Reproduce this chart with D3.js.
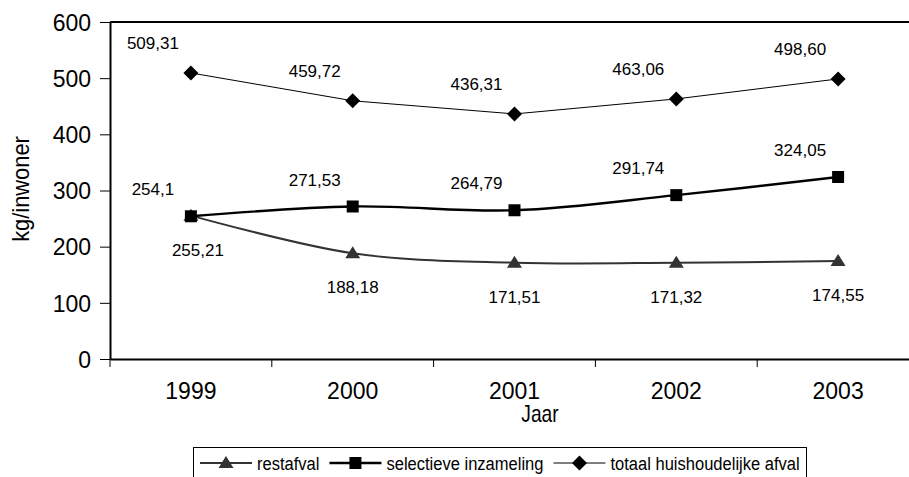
<!DOCTYPE html>
<html>
<head>
<meta charset="utf-8">
<script src="https://cdn.jsdelivr.net/npm/d3@7"></script>
<style>
  body { margin: 0; background: #fff; }
  svg { display: block; font-family: "Liberation Sans", Arial, sans-serif; }
</style>
</head>
<body>
<svg id="canvas" width="909" height="477"></svg>
<script>
// data
var years = ['1999', '2000', '2001', '2002', '2003'];
var restafval = [255.21, 188.18, 171.51, 171.32, 174.55];
var selectief = [254.1, 271.53, 264.79, 291.74, 324.05];
var totaal = [509.31, 459.72, 436.31, 463.06, 498.60];
var restLabels = ['255,21', '188,18', '171,51', '171,32', '174,55'];
var selLabels = ['254,1', '271,53', '264,79', '291,74', '324,05'];
var totLabels = ['509,31', '459,72', '436,31', '463,06', '498,60'];
var yTicks = [0, 100, 200, 300, 400, 500, 600];

(function() {
    var svg = d3.select('#canvas'),
        plotLeft = 110, plotRight = 919, plotTop = 22, plotBottom = 359;

    var x = d3.scaleBand().domain(years).range([plotLeft, plotRight]);
    var y = d3.scaleLinear().domain([0, 600]).range([plotBottom, plotTop]);
    var cx = function(i) { return x(years[i]) + x.bandwidth() / 2; };

    // plot border (top)
    svg.append('line')
        .attr('x1', plotLeft).attr('x2', plotRight)
        .attr('y1', plotTop).attr('y2', plotTop)
        .attr('stroke', '#000').attr('stroke-width', 2);

    // y axis
    var yAxis = svg.append('g')
        .attr('transform', 'translate(' + plotLeft + ',0)')
        .call(d3.axisLeft(y).tickValues(yTicks).tickSize(10).tickSizeOuter(0));
    yAxis.select('.domain').attr('stroke-width', 2);
    yAxis.selectAll('.tick text')
        .attr('x', -19).attr('dy', '0.36em')
        .style('font-size', '23px').style('font-family', '"Liberation Sans", Arial');

    // x axis
    var xAxis = svg.append('g')
        .attr('transform', 'translate(0,' + plotBottom + ')')
        .call(d3.axisBottom(x).tickSize(0).tickSizeOuter(0));
    xAxis.select('.domain').attr('stroke-width', 2);
    xAxis.selectAll('.tick text')
        .attr('y', 40).attr('dy', 0)
        .style('font-size', '23px').style('font-family', '"Liberation Sans", Arial');
    // category separators
    xAxis.selectAll('.sep')
        .data(years)
        .enter().append('line')
        .attr('class', 'sep')
        .attr('x1', function(d) { return x(d); })
        .attr('x2', function(d) { return x(d); })
        .attr('y1', 0).attr('y2', 8)
        .attr('stroke', '#000');

    // axis titles
    svg.append('text')
        .attr('transform', 'translate(29,189) rotate(-90) scale(0.95,1)')
        .attr('text-anchor', 'middle')
        .style('font-size', '23px')
        .text('kg/inwoner');
    svg.append('text')
        .attr('transform', 'translate(540,422) scale(0.8,1)')
        .attr('text-anchor', 'middle')
        .style('font-size', '24px')
        .text('Jaar');

    // markers
    var sym = {
        tri: 'M0,-7L7.5,5L-7.5,5Z',
        sq: 'M-6,-6H6V6H-6Z',
        dia: 'M0,-7.5L7.5,0L0,7.5L-7.5,0Z'
    };

    var series = [
        { name: 'restafval', values: restafval, labels: restLabels, color: '#333', width: 2,
          curve: d3.curveCatmullRom.alpha(0), marker: 'tri', dx: 0, dy: 34 },
        { name: 'selectieve inzameling', values: selectief, labels: selLabels, color: '#000', width: 2.4,
          curve: d3.curveCatmullRom.alpha(0), marker: 'sq', dx: -38, dy: -27 },
        { name: 'totaal huishoudelijke afval', values: totaal, labels: totLabels, color: '#000', width: 1,
          curve: d3.curveLinear, marker: 'dia', dx: -38, dy: -30 }
    ];

    series.forEach(function(s) {
        var line = d3.line()
            .x(function(d, i) { return cx(i); })
            .y(function(d) { return y(d); })
            .curve(s.curve);
        svg.append('path')
            .attr('d', line(s.values))
            .attr('fill', 'none')
            .attr('stroke', s.color)
            .attr('stroke-width', s.width);

        svg.selectAll('.m-' + s.marker)
            .data(s.values)
            .enter().append('path')
            .attr('class', 'm-' + s.marker)
            .attr('d', sym[s.marker])
            .attr('transform', function(d, i) {
                return 'translate(' + cx(i) + ',' + y(d) + ')';
            })
            .attr('fill', s.color);

        svg.selectAll('.l-' + s.marker)
            .data(s.labels)
            .enter().append('text')
            .attr('class', 'l-' + s.marker)
            .attr('x', function(d, i) { return cx(i) + s.dx + (s.marker === 'tri' && i === 0 ? 7 : 0); })
            .attr('y', function(d, i) { return y(s.values[i]) + s.dy; })
            .attr('dy', '0.36em')
            .attr('text-anchor', 'middle')
            .style('font-size', '17px')
            .text(function(d) { return d; });
    });

    // legend
    var legend = svg.append('g').attr('transform', 'translate(193,447)');
    legend.append('rect')
        .attr('x', 0.5).attr('y', 0.5)
        .attr('width', 613).attr('height', 34)
        .attr('fill', '#fff').attr('stroke', '#000');

    var lx = 7, squeeze = 0.87;
    series.forEach(function(s) {
        var g = legend.append('g').attr('transform', 'translate(' + lx + ',16)');
        g.append('line')
            .attr('x1', 0).attr('x2', 52)
            .attr('stroke', s.color).attr('stroke-width', s.width);
        g.append('path')
            .attr('d', sym[s.marker])
            .attr('transform', 'translate(26,0)')
            .attr('fill', s.color);
        var t = g.append('text')
            .attr('transform', 'translate(57,0) scale(' + squeeze + ',1)')
            .attr('dy', '0.36em')
            .style('font-size', '19px')
            .text(s.name);
        lx += 57 + t.node().getComputedTextLength() * squeeze + 10;
    });
})();
</script>
</body>
</html>
